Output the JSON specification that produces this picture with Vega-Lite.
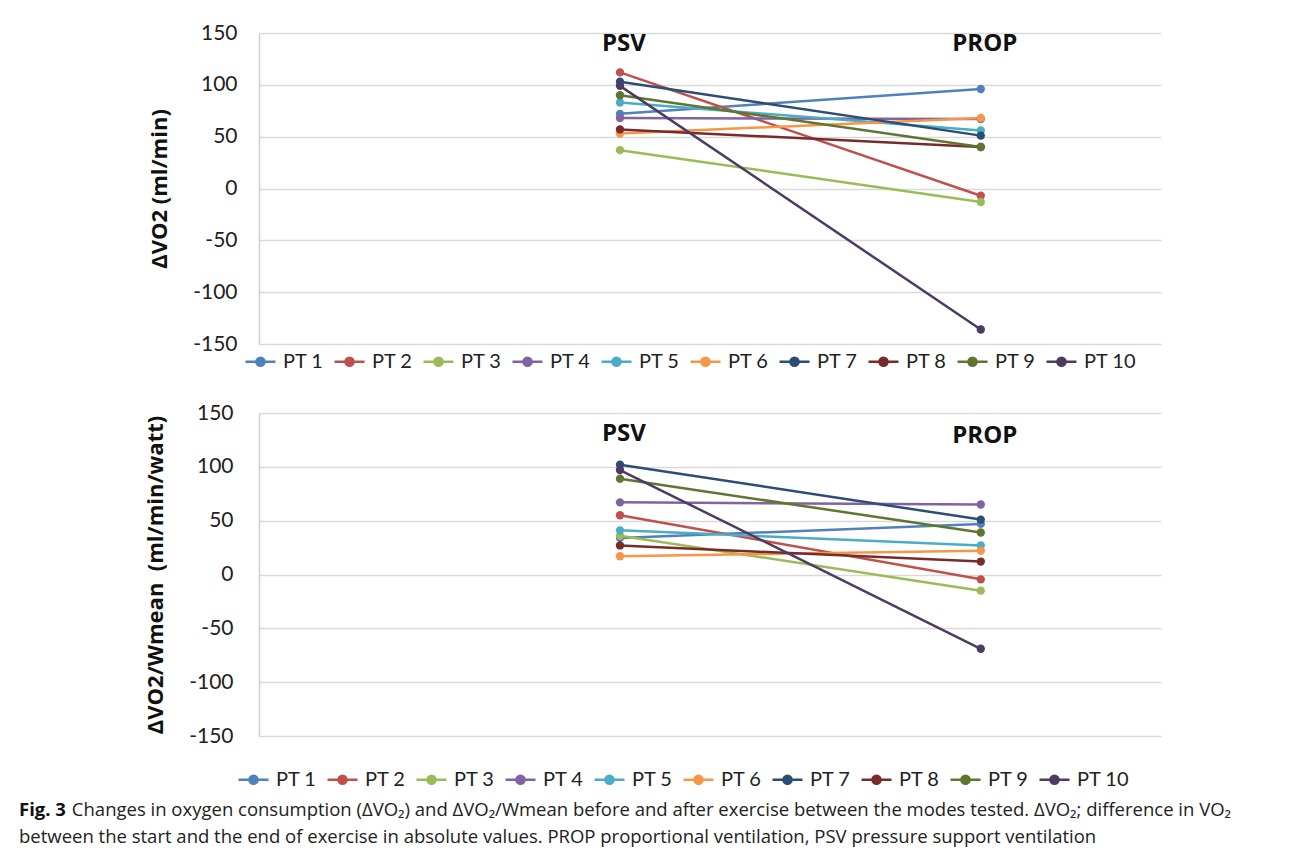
{
  "$schema": "https://vega.github.io/schema/vega-lite/v6.json",
  "background": "white",
  "padding": {"left": 18, "top": 22, "right": 20, "bottom": 4},
  "data": {"values": [
    {"pt": "PT 1", "mode": "PSV", "dvo2": 72, "dvo2w": 34},
    {"pt": "PT 1", "mode": "PROP", "dvo2": 96, "dvo2w": 47},
    {"pt": "PT 2", "mode": "PSV", "dvo2": 112, "dvo2w": 55},
    {"pt": "PT 2", "mode": "PROP", "dvo2": -7, "dvo2w": -4.5},
    {"pt": "PT 3", "mode": "PSV", "dvo2": 37, "dvo2w": 36},
    {"pt": "PT 3", "mode": "PROP", "dvo2": -13, "dvo2w": -15},
    {"pt": "PT 4", "mode": "PSV", "dvo2": 68, "dvo2w": 67},
    {"pt": "PT 4", "mode": "PROP", "dvo2": 67, "dvo2w": 65},
    {"pt": "PT 5", "mode": "PSV", "dvo2": 83, "dvo2w": 41},
    {"pt": "PT 5", "mode": "PROP", "dvo2": 56, "dvo2w": 27},
    {"pt": "PT 6", "mode": "PSV", "dvo2": 53, "dvo2w": 17},
    {"pt": "PT 6", "mode": "PROP", "dvo2": 68, "dvo2w": 22},
    {"pt": "PT 7", "mode": "PSV", "dvo2": 103, "dvo2w": 102},
    {"pt": "PT 7", "mode": "PROP", "dvo2": 51, "dvo2w": 51},
    {"pt": "PT 8", "mode": "PSV", "dvo2": 57, "dvo2w": 27},
    {"pt": "PT 8", "mode": "PROP", "dvo2": 40, "dvo2w": 12},
    {"pt": "PT 9", "mode": "PSV", "dvo2": 90, "dvo2w": 89},
    {"pt": "PT 9", "mode": "PROP", "dvo2": 40, "dvo2w": 39},
    {"pt": "PT 10", "mode": "PSV", "dvo2": 99, "dvo2w": 97},
    {"pt": "PT 10", "mode": "PROP", "dvo2": -136, "dvo2w": -69}
  ]},
  "config": {
    "view": {"stroke": null},
    "axis": {
      "labelFont": "Lato", "labelFontSize": 21, "labelColor": "#222",
      "titleFont": "Open Sans", "titleFontSize": 22, "titleFontWeight": "bold", "titleColor": "#111",
      "gridColor": "#d9d9d9", "gridWidth": 1.5, "domainColor": "#d0d0d0", "domainWidth": 1.5, "ticks": false,
      "labelExpr": "datum.value < 0 ? '-' + abs(datum.value) : '' + datum.value"
    },
    "legend": {
      "orient": "none", "direction": "horizontal", "columns": 10,
      "labelFont": "Lato", "labelFontSize": 20, "labelColor": "#222", "labelOffset": 6,
      "columnPadding": 5, "symbolSize": 900, "symbolStrokeWidth": 2.5,
      "symbolType": "M-1,0L1,0M-0.27,0A0.27,0.27,0,1,0,0.27,0A0.27,0.27,0,1,0,-0.27,0Z",
      "title": null
    },
    "text": {"font": "Open Sans", "fontSize": 24, "fontWeight": "bold", "color": "#111"}
  },
  "title": {
    "text": "Fig. 3",
    "subtitle": [
      "\u200b\u00a0\u00a0\u00a0\u00a0\u00a0\u00a0\u00a0\u00a0\u00a0\u00a0\u00a0Changes in oxygen consumption (ΔVO₂) and ΔVO₂/Wmean before and after exercise between the modes tested. ΔVO₂; difference in VO₂",
      "between the start and the end of exercise in absolute values. PROP proportional ventilation, PSV pressure support ventilation"
    ],
    "orient": "bottom", "anchor": "start", "frame": "bounds",
    "font": "Open Sans", "fontSize": 18.5, "fontWeight": "bold", "color": "#111", "lineHeight": 18.5,
    "subtitleFont": "Open Sans", "subtitleFontSize": 18.5, "subtitleColor": "#222",
    "subtitleLineHeight": 27, "subtitlePadding": -18.5,
    "offset": 11, "dx": -125
  },
  "spacing": 30,
  "resolve": {"legend": {"color": "independent"}},
  "vconcat": [
    {
      "width": 902, "height": 311,
      "layer": [
        {
          "mark": {"type": "line", "strokeWidth": 2.5},
          "encoding": {
            "x": {"field": "mode", "type": "ordinal", "axis": null, "scale": {"type": "point", "domain": ["PSV", "PROP"], "padding": 0.75, "align": 0.667}},
            "y": {"field": "dvo2", "type": "quantitative", "scale": {"domain": [-150, 150], "nice": false},
                  "axis": {"values": [-150, -100, -50, 0, 50, 100, 150], "title": "ΔVO2 (ml/min)", "labelPadding": 22, "titleX": -100, "titleBaseline": "middle", "grid": true}},
            "color": {"field": "pt", "type": "nominal",
                      "scale": {"domain": ["PT 1", "PT 2", "PT 3", "PT 4", "PT 5", "PT 6", "PT 7", "PT 8", "PT 9", "PT 10"],
                                "range": ["#4F81BD", "#C0504D", "#9BBB59", "#8064A2", "#4BACC6", "#F79646", "#2C4D75", "#772C2A", "#5F7530", "#4D3B62"]},
                      "legend": {"legendX": -15, "legendY": 312, "encode": {"symbols": {"update": {"fill": {"scale": "color", "field": "value"}}}}}}
          }
        },
        {
          "mark": {"type": "point", "filled": true, "size": 70, "opacity": 1},
          "encoding": {
            "x": {"field": "mode", "type": "ordinal"},
            "y": {"field": "dvo2", "type": "quantitative"},
            "color": {"field": "pt", "type": "nominal"}
          }
        },
        {
          "data": {"values": [{"mode": "PSV", "label": "PSV"}, {"mode": "PROP", "label": "PROP"}]},
          "mark": {"type": "text", "dx": 4},
          "encoding": {
            "x": {"field": "mode", "type": "ordinal"},
            "y": {"datum": 139},
            "text": {"field": "label"}
          }
        }
      ]
    },
    {
      "width": 902, "height": 323,
      "layer": [
        {
          "mark": {"type": "line", "strokeWidth": 2.5},
          "encoding": {
            "x": {"field": "mode", "type": "ordinal", "axis": null, "scale": {"type": "point", "domain": ["PSV", "PROP"], "padding": 0.75, "align": 0.667}},
            "y": {"field": "dvo2w", "type": "quantitative", "scale": {"domain": [-150, 150], "nice": false},
                  "axis": {"values": [-150, -100, -50, 0, 50, 100, 150], "title": "ΔVO2/Wmean\u00a0 (ml/min/watt)", "labelPadding": 26, "titleX": -104, "titleBaseline": "middle", "grid": true}},
            "color": {"field": "pt", "type": "nominal",
                      "scale": {"domain": ["PT 1", "PT 2", "PT 3", "PT 4", "PT 5", "PT 6", "PT 7", "PT 8", "PT 9", "PT 10"],
                                "range": ["#4F81BD", "#C0504D", "#9BBB59", "#8064A2", "#4BACC6", "#F79646", "#2C4D75", "#772C2A", "#5F7530", "#4D3B62"]},
                      "legend": {"legendX": -22, "legendY": 350, "encode": {"symbols": {"update": {"fill": {"scale": "color", "field": "value"}}}}}}
          }
        },
        {
          "mark": {"type": "point", "filled": true, "size": 70, "opacity": 1},
          "encoding": {
            "x": {"field": "mode", "type": "ordinal"},
            "y": {"field": "dvo2w", "type": "quantitative"},
            "color": {"field": "pt", "type": "nominal"}
          }
        },
        {
          "data": {"values": [{"mode": "PSV", "label": "PSV"}]},
          "mark": {"type": "text", "dx": 4},
          "encoding": {
            "x": {"field": "mode", "type": "ordinal"},
            "y": {"datum": 130.4},
            "text": {"field": "label"}
          }
        },
        {
          "data": {"values": [{"mode": "PROP", "label": "PROP"}]},
          "mark": {"type": "text", "dx": 4},
          "encoding": {
            "x": {"field": "mode", "type": "ordinal"},
            "y": {"datum": 128.4},
            "text": {"field": "label"}
          }
        }
      ]
    }
  ]
}
